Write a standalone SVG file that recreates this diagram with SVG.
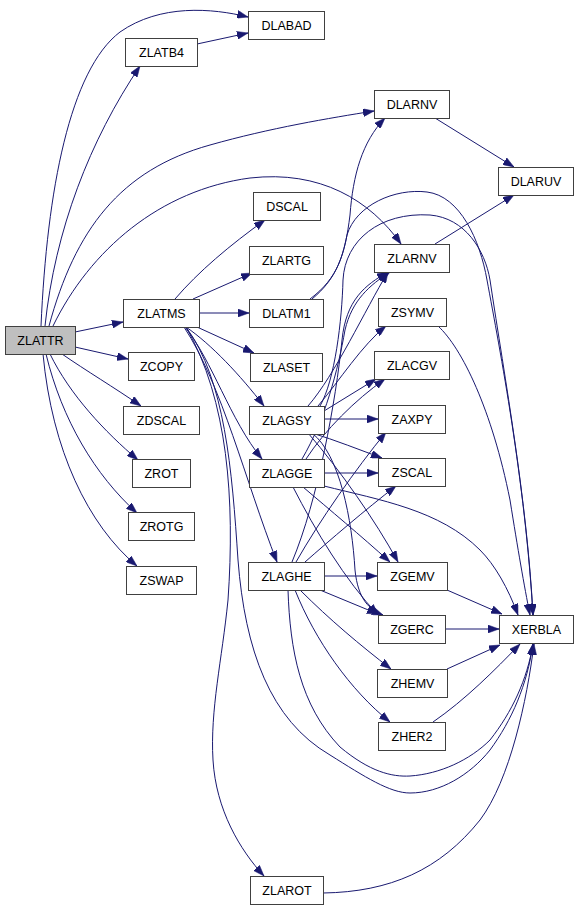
<svg xmlns="http://www.w3.org/2000/svg" width="579" height="911" viewBox="0 0 579 911">
<style>
.n rect{fill:#ffffff;stroke:#404040;stroke-width:1}
.n text{font-family:"Liberation Sans",Arial,sans-serif;font-size:12.5px;fill:#000000;text-anchor:middle}
#ZLATTR rect{fill:#bfbfbf}
.e path{fill:none;stroke:#191970;stroke-width:1;marker-end:url(#arr)}
</style>
<defs>
<marker id="arr" markerUnits="userSpaceOnUse" markerWidth="11" markerHeight="8" viewBox="0 0 11 8" refX="11" refY="4" orient="auto">
<path d="M0,0 L11,4 L0,8 z" fill="#191970" stroke="#191970" stroke-width="0.5"/>
</marker>
</defs>
<rect width="579" height="911" fill="#ffffff"/>
<g id="edges" class="e">
<path d="M41,326 C47,190 70,70 120,32 C160,4 212,8 248,17"/>
<path d="M45,326 C55,230 90,140 140,66"/>
<path d="M49,326 C75,230 120,170 210,145 C270,128 330,118 374,111"/>
<path d="M53,326 C90,250 160,190 250,178 C320,170 370,200 401,244"/>
<path d="M75,332 L123,322"/>
<path d="M75,347 L128,359"/>
<path d="M62,354 C85,370 115,388 141,406"/>
<path d="M50,354 C70,395 105,432 138,460"/>
<path d="M46,354 C62,420 95,475 137,513"/>
<path d="M43,354 C52,450 88,525 137,566"/>
<path d="M197,44 L248,33"/>
<path d="M435,118 L514,167"/>
<path d="M435,244 L514,195"/>
<path d="M175,299 C198,272 230,245 265,220"/>
<path d="M193,299 L252,273"/>
<path d="M199,313 L249,313"/>
<path d="M197,327 L254,353"/>
<path d="M186,327 C212,345 240,375 264,406"/>
<path d="M185,327 C212,360 230,420 262,459"/>
<path d="M184,327 C222,385 245,480 277,562"/>
<path d="M186,327 C228,400 235,500 228,600 C222,660 210,710 213,760 C216,810 240,850 264,876"/>
<path d="M186,327 C225,380 232,470 238,560 C245,650 270,720 330,755 C365,777 390,793 410,793 C440,793 470,775 490,750 C512,720 527,685 533,644"/>
<path d="M310,299 C338,278 345,255 350,215 C353,175 362,142 385,118"/>
<path d="M312,299 C335,280 342,260 347,235 C356,205 395,188 427,192 C460,196 480,240 487,280 C500,350 525,480 533,615"/>
<path d="M308,406 C335,375 365,310 388,272"/>
<path d="M318,406 C340,380 362,345 386,326"/>
<path d="M324,411 L376,379"/>
<path d="M324,419 L378,419"/>
<path d="M312,433 C335,440 360,450 382,458"/>
<path d="M308,433 C340,470 375,520 398,562"/>
<path d="M312,433 C340,455 352,520 355,570 C358,600 370,610 383,615"/>
<path d="M320,406 C335,380 342,320 343,280 C345,240 380,212 430,215 C465,218 485,250 490,280 C505,380 527,500 533,615"/>
<path d="M302,459 C325,420 338,370 345,330 C352,300 370,285 390,272"/>
<path d="M306,459 C325,430 355,400 385,379"/>
<path d="M324,473 L378,473"/>
<path d="M303,487 C330,510 360,535 390,562"/>
<path d="M293,487 C315,530 345,580 378,615"/>
<path d="M324,486 C380,500 440,510 480,550 C495,565 508,588 518,615"/>
<path d="M292,562 C318,500 336,400 342,340 C346,300 365,285 388,272"/>
<path d="M296,562 C320,520 355,470 386,432"/>
<path d="M305,562 C330,540 365,510 396,486"/>
<path d="M324,576 L377,576"/>
<path d="M320,590 L378,614"/>
<path d="M300,590 C330,620 360,645 391,669"/>
<path d="M295,590 C315,640 350,690 390,722"/>
<path d="M288,590 C290,650 300,705 340,747 C370,772 392,777 410,776 C440,774 470,760 490,740 C512,712 527,680 533,644"/>
<path d="M438,326 C462,348 492,410 510,500 C518,550 524,585 530,615"/>
<path d="M447,590 L502,614"/>
<path d="M445,629 L499,629"/>
<path d="M447,669 L500,645"/>
<path d="M433,722 C465,700 495,670 520,644"/>
<path d="M323,893 C390,892 440,870 480,820 C510,780 527,700 534,644"/>
</g>
<g id="ZLATTR" class="n"><rect x="5.5" y="326.5" width="70" height="28"/><text x="40.5" y="345">ZLATTR</text></g>
<g id="DLABAD" class="n"><rect x="248.5" y="11.5" width="76" height="28"/><text x="286.5" y="30">DLABAD</text></g>
<g id="ZLATB4" class="n"><rect x="125.5" y="38.5" width="72" height="28"/><text x="161.5" y="57">ZLATB4</text></g>
<g id="DLARNV" class="n"><rect x="374.5" y="90.5" width="75" height="28"/><text x="412" y="109">DLARNV</text></g>
<g id="DLARUV" class="n"><rect x="498.5" y="167.5" width="75" height="28"/><text x="536" y="186">DLARUV</text></g>
<g id="DSCAL" class="n"><rect x="253.5" y="192.5" width="67" height="28"/><text x="287" y="211">DSCAL</text></g>
<g id="ZLARTG" class="n"><rect x="249.5" y="246.5" width="74" height="28"/><text x="286.5" y="265">ZLARTG</text></g>
<g id="ZLARNV" class="n"><rect x="374.5" y="244.5" width="75" height="28"/><text x="412" y="263">ZLARNV</text></g>
<g id="ZLATMS" class="n"><rect x="123.5" y="299.5" width="76" height="28"/><text x="161.5" y="318">ZLATMS</text></g>
<g id="DLATM1" class="n"><rect x="249.5" y="299.5" width="74" height="28"/><text x="286.5" y="318">DLATM1</text></g>
<g id="ZSYMV" class="n"><rect x="378.5" y="298.5" width="68" height="28"/><text x="412.5" y="317">ZSYMV</text></g>
<g id="ZCOPY" class="n"><rect x="128.5" y="352.5" width="66" height="28"/><text x="161.5" y="371">ZCOPY</text></g>
<g id="ZLASET" class="n"><rect x="250.5" y="353.5" width="72" height="28"/><text x="286.5" y="372">ZLASET</text></g>
<g id="ZLACGV" class="n"><rect x="374.5" y="351.5" width="75" height="28"/><text x="412" y="370">ZLACGV</text></g>
<g id="ZDSCAL" class="n"><rect x="123.5" y="406.5" width="76" height="28"/><text x="161.5" y="425">ZDSCAL</text></g>
<g id="ZLAGSY" class="n"><rect x="249.5" y="406.5" width="75" height="28"/><text x="287" y="425">ZLAGSY</text></g>
<g id="ZAXPY" class="n"><rect x="378.5" y="405.5" width="67" height="28"/><text x="412" y="424">ZAXPY</text></g>
<g id="ZROT" class="n"><rect x="132.5" y="459.5" width="58" height="28"/><text x="161.5" y="478">ZROT</text></g>
<g id="ZLAGGE" class="n"><rect x="249.5" y="459.5" width="75" height="28"/><text x="287" y="478">ZLAGGE</text></g>
<g id="ZSCAL" class="n"><rect x="378.5" y="458.5" width="67" height="28"/><text x="412" y="477">ZSCAL</text></g>
<g id="ZROTG" class="n"><rect x="128.5" y="512.5" width="66" height="28"/><text x="161.5" y="531">ZROTG</text></g>
<g id="ZSWAP" class="n"><rect x="126.5" y="566.5" width="70" height="28"/><text x="161.5" y="585">ZSWAP</text></g>
<g id="ZLAGHE" class="n"><rect x="248.5" y="562.5" width="76" height="28"/><text x="286.5" y="581">ZLAGHE</text></g>
<g id="ZGEMV" class="n"><rect x="377.5" y="562.5" width="70" height="28"/><text x="412.5" y="581">ZGEMV</text></g>
<g id="ZGERC" class="n"><rect x="378.5" y="615.5" width="67" height="28"/><text x="412" y="634">ZGERC</text></g>
<g id="XERBLA" class="n"><rect x="499.5" y="615.5" width="74" height="28"/><text x="536.5" y="634">XERBLA</text></g>
<g id="ZHEMV" class="n"><rect x="377.5" y="669.5" width="70" height="28"/><text x="412.5" y="688">ZHEMV</text></g>
<g id="ZHER2" class="n"><rect x="378.5" y="722.5" width="67" height="28"/><text x="412" y="741">ZHER2</text></g>
<g id="ZLAROT" class="n"><rect x="250.5" y="876.5" width="73" height="28"/><text x="287" y="895">ZLAROT</text></g>
</svg>
